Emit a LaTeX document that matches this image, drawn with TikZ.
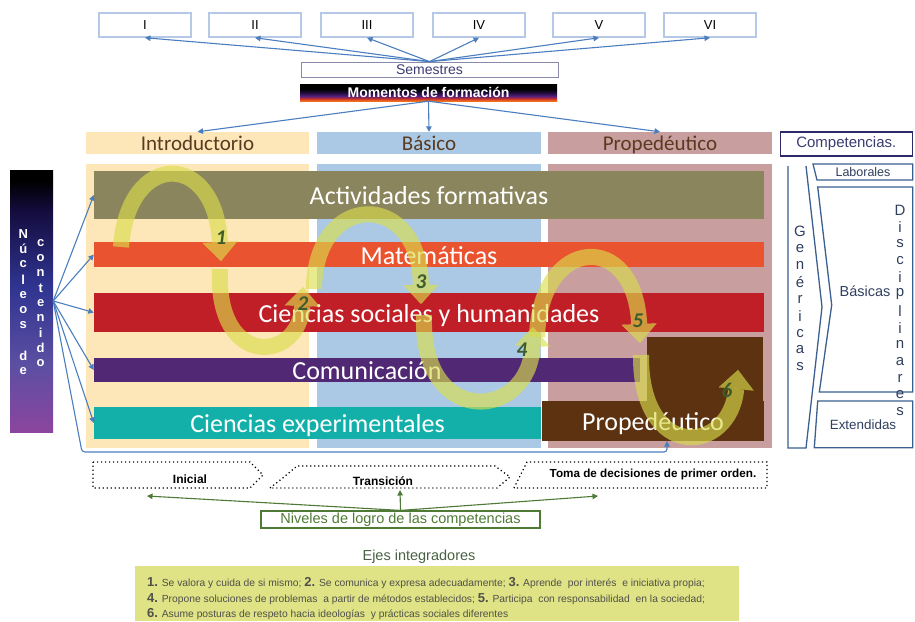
\documentclass[tikz,border=0pt]{standalone}
\usepackage{fontspec}
\setmainfont{Liberation Sans}
\newfontfamily\calfont{Carlito}
\usetikzlibrary{arrows.meta,shapes.geometric}
\definecolor{arrowblue}{HTML}{4A7EBF}
\definecolor{semborder}{HTML}{B5C9E6}
\definecolor{semtext}{HTML}{3B3B70}
\definecolor{hdrtext}{HTML}{5A3A20}
\definecolor{cIntro}{HTML}{FDE6B8}
\definecolor{cBas}{HTML}{ABC9E4}
\definecolor{cProp}{HTML}{C89E9E}
\definecolor{cAct}{HTML}{8B855D}
\definecolor{cMat}{HTML}{E9532F}
\definecolor{cCS}{HTML}{C11F27}
\definecolor{cCom}{HTML}{512873}
\definecolor{cCE}{HTML}{13B0AA}
\definecolor{cBrown}{HTML}{5C3211}
\definecolor{ribcol}{HTML}{DADE4C}
\definecolor{numgreen}{HTML}{3E5B2B}
\definecolor{navy}{HTML}{2B2B6B}
\definecolor{steel}{HTML}{3B5F8F}
\definecolor{lettxt}{HTML}{2F3F5F}
\definecolor{grn}{HTML}{4F7A35}
\definecolor{ejesfill}{HTML}{DFE385}
\definecolor{ejestxt}{HTML}{50504A}
\definecolor{mOr}{HTML}{F07020}
\definecolor{mRe}{HTML}{C83028}
\definecolor{mPu}{HTML}{5A2080}
\definecolor{mDk}{HTML}{1C0C38}
\definecolor{nP1}{HTML}{8C459F}
\definecolor{nP2}{HTML}{5B4FA2}
\definecolor{nB}{HTML}{2F3490}
\definecolor{nD}{HTML}{150D40}
\pgfdeclareverticalshading{momsh}{100bp}{color(0bp)=(mOr); color(26bp)=(mOr); color(32bp)=(mRe); color(39bp)=(mPu); color(50bp)=(mDk); color(60bp)=(black); color(100bp)=(black)}
\pgfdeclareverticalshading{nucsh}{100bp}{color(0bp)=(nP1); color(25bp)=(nP1); color(38bp)=(nP2); color(53bp)=(nB); color(67bp)=(nD); color(73bp)=(black); color(100bp)=(black)}
\newcommand\enum[1]{{\fontsize{13}{13}\selectfont\bfseries #1}}
\begin{document}
\begin{tikzpicture}[x=1pt,y=-1pt,
  blu/.style={draw=arrowblue, line width=1.1pt, -{Triangle[length=5.5pt,width=5.5pt]}},
  gar/.style={draw=grn, line width=1.1pt, -{Triangle[length=5.5pt,width=5.5pt]}},
  semb/.style={draw=semborder, line width=1.5pt, fill=white, minimum width=92pt, minimum height=24pt, inner sep=0pt, font=\fontsize{13}{13}\selectfont},
  hdr/.style={inner sep=0pt, minimum width=224pt, minimum height=22pt, text height=15pt, text depth=0pt, font=\calfont\fontsize{21}{21}\selectfont, text=hdrtext},
  colbox/.style={inner sep=0pt, minimum width=224pt, minimum height=284pt},
  bar/.style={inner sep=0pt, text=white, text height=19pt, text depth=0pt, font=\calfont\fontsize{26}{26}\selectfont},
  ribbon/.style={line width=16pt, draw=ribcol, opacity=.64, -{Triangle[width=35pt,length=19pt,line width=0.1pt]}},
  num/.style={font=\calfont\bfseries\itshape\fontsize{21}{21}\selectfont, text=numgreen, inner sep=0pt},
  nl/.style={text=white, font=\bfseries\fontsize{13}{13}\selectfont, inner sep=0pt},
  vl/.style={text=lettxt, font=\fontsize{15}{15}\selectfont, inner sep=0pt},
  rshape/.style={draw=steel, line width=1.3pt},
  chev/.style={draw=black, line width=1.3pt, dash pattern=on 1.2pt off 2.8pt},
  lvl/.style={font=\bfseries\fontsize{12}{12}\selectfont, inner sep=0pt}
]
\useasboundingbox (0,0) rectangle (915,621);
% semesters
\node[semb] (s1) at (145,25) {I};
\node[semb] (s2) at (255,25) {II};
\node[semb] (s3) at (367,25) {III};
\node[semb] (s4) at (479,25) {IV};
\node[semb] (s5) at (599,25) {V};
\node[semb] (s6) at (710,25) {VI};
\node[draw=semtext!60, line width=0.8pt, minimum width=257pt, minimum height=15pt, inner sep=0pt, text=semtext, font=\fontsize{14}{14}\selectfont] (sem) at (429.5,69.5) {Semestres};
\foreach \s in {s1,s2,s3,s4,s5,s6} \draw[blu] (sem.north) -- (\s.south);
\node[shading=momsh, minimum width=257pt, minimum height=17pt, inner sep=0pt, text=white, font=\bfseries\fontsize{14}{14}\selectfont] (mom) at (428.5,92.5) {Momentos de formación};
% headers and columns
\node[hdr, fill=cIntro, minimum width=223pt] (hi) at (197.5,143) {Introductorio};
\node[hdr, fill=cBas] (hb) at (429,143) {Básico};
\node[hdr, fill=cProp] (hp) at (660,143) {Propedéutico};
\draw[blu] (mom.south) -- (hi.north);
\draw[blu] (mom.south) -- (hb.north);
\draw[blu] (mom.south) -- (hp.north);
\node[colbox, fill=cIntro, minimum width=223pt] (ci) at (197.5,306) {};
\node[colbox, fill=cBas] (cb) at (429,306) {};
\node[colbox, fill=cProp] (cp) at (660,306) {};
% bars
\node[bar, fill=cAct, minimum width=670pt, minimum height=48pt] (act) at (429,195) {Actividades formativas};
\node[bar, fill=cMat, minimum width=670pt, minimum height=25pt] (mat) at (429,254.5) {Matemáticas};
\node[bar, fill=cCS, minimum width=670pt, minimum height=39pt] (cs) at (429,312.5) {Ciencias sociales y humanidades};
\node[bar, fill=cCom, minimum width=546pt, minimum height=24pt] (com) at (367,370) {Comunicación};
\node[bar, fill=cCE, minimum width=447pt, minimum height=32pt] (ce) at (317.5,423) {Ciencias experimentales};
\node[fill=cBrown, minimum width=116pt, minimum height=64pt, inner sep=0pt] (pu) at (705,369) {};
\node[bar, fill=cBrown, minimum width=222pt, minimum height=40pt] (pl) at (653,421) {Propedéutico};
% ribbons
\draw[ribbon] (121,247) .. controls (128,150) and (215,150) .. (221,261);
\draw[ribbon] (220,269) .. controls (215,370) and (300,362) .. (303,287);
\draw[ribbon] (314,289) .. controls (315,190) and (420,190) .. (421,304);
\draw[ribbon] (424,315) .. controls (420,430) and (530,420) .. (533,327);
\draw[ribbon] (537,337) .. controls (540,235) and (635,230) .. (640,343);
\draw[ribbon] (641,355) .. controls (640,462) and (730,455) .. (738,370);
\node[num] (n1) at (221,238) {1};
\node[num] (n2) at (303,304) {2};
\node[num] (n3) at (421,282) {3};
\node[num] (n4) at (522,350) {4};
\node[num] (n5) at (638,321) {5};
\node[num] (n6) at (727,390) {6};
% nucleos
\node[shading=nucsh, minimum width=43pt, minimum height=262pt, inner sep=0pt] (nuc) at (31.5,301) {};
\foreach \t/\k in {N/0,ú/1,c/2,l/3,e/4,o/5,s/6,d/8,e/9} \node[nl] (na\k) at (23.3,{234+15.2*\k}) {\t};
\foreach \t [count=\k from 0] in {c,o,n,t,e,n,i,d,o} \node[nl] (nb\k) at (40.7,{243+15*\k}) {\t};
\draw[blu] (nuc.east) -- (act.west);
\draw[blu] (nuc.east) -- (mat.west);
\draw[blu] (nuc.east) -- (cs.west);
\draw[blu] (nuc.east) -- (com.west);
\draw[blu] (nuc.east) -- (ce.west);
\coordinate (pin) at (667,441);
\draw[blu, rounded corners=3pt] (nuc.east) -- (82,452) -| (pin);
% competencias
\node[draw=navy, line width=1.6pt, minimum width=132pt, minimum height=23.5pt, inner sep=0pt, text=semtext, font=\fontsize{15}{15}\selectfont] (comp) at (846.3,144) {Competencias.};
\draw[rshape] (788,166) -- (788,448) -- (806,448) -- (822,307) -- (806,166);
\draw[rshape] (813,164) -- (912.7,164) -- (912.7,180) -- (817,180) -- cycle;
\node[font=\fontsize{12.5}{12.5}\selectfont, text=lettxt, inner sep=0pt] (lab) at (863,172) {Laborales};
\draw[rshape] (817.7,187) -- (912.7,187) -- (912.7,392) -- (819.3,392) -- (831.7,305) -- cycle;
\node[font=\fontsize{14.5}{14.5}\selectfont, text=lettxt, inner sep=0pt] (bas) at (865,291) {Básicas};
\draw[rshape] (817.7,401) -- (912.7,401) -- (912.7,447.7) -- (814.3,447.7) -- cycle;
\node[font=\fontsize{13.4}{13.4}\selectfont, text=lettxt, inner sep=0pt] (ext) at (863,425) {Extendidas};
\foreach \t [count=\k from 0] in {G,e,n,é,r,i,c,a,s} \node[vl] (ga\k) at (800,{231.7+16.9*\k}) {\t};
\foreach \t [count=\k from 0] in {D,i,s,c,i,p,l,i,n,a,r,e,s} \node[vl] (da\k) at (900,{210+16.8*\k}) {\t};
% niveles
\draw[chev] (93,462) -- (250,462) -- (263,475) -- (250,488) -- (93,488) -- cycle;
\draw[chev] (270,488) -- (284,477) -- (297,466) -- (495,466) -- (510,477) -- (497,488) -- cycle;
\draw[chev] (514,488) -- (527,462) -- (767,462) -- (767,488) -- cycle;
\node[lvl] (ini) at (190,479) {Inicial};
\node[lvl] (tra) at (383,481) {Transición};
\node[lvl, font=\bfseries\fontsize{11.7}{11.7}\selectfont] (tom) at (653,474) {Toma de decisiones de primer orden.};
\node[draw=grn, line width=1.2pt, minimum width=279pt, minimum height=17pt, inner sep=0pt, text=grn, font=\fontsize{14.5}{14.5}\selectfont] (niv) at (400.5,519.5) {Niveles de logro de las competencias};
\coordinate (t1) at (147,496);
\coordinate (t2) at (400,490);
\coordinate (t3) at (598,496);
\draw[gar] (niv.north) -- (t1);
\draw[gar] (niv.north) -- (t2);
\draw[gar] (niv.north) -- (t3);
% ejes
\node[text=ejestxt!90!green, font=\fontsize{14.5}{14.5}\selectfont, inner sep=0pt] (ejt) at (419,557) {Ejes integradores};
\node[fill=ejesfill, minimum width=604pt, minimum height=55pt, inner sep=0pt] (ejb) at (437,593.5) {};
\node[anchor=west, text=ejestxt, font=\fontsize{10.3}{10.3}\selectfont, inner sep=0pt] (e1) at (147,583) {\enum{1.} Se valora y cuida de si mismo; \enum{2.} Se comunica y expresa adecuadamente; \enum{3.} Aprende\ \ por interés\ \ e iniciativa propia;};
\node[anchor=west, text=ejestxt, font=\fontsize{10.3}{10.3}\selectfont, inner sep=0pt] (e2) at (147,599) {\enum{4.} Propone soluciones de problemas\ \ a partir de métodos establecidos; \enum{5.} Participa\ \ con responsabilidad\ \ en la sociedad;};
\node[anchor=west, text=ejestxt, font=\fontsize{10.3}{10.3}\selectfont, inner sep=0pt] (e3) at (147,614) {\enum{6.} Asume posturas de respeto hacia ideologías\ \ y prácticas sociales diferentes};
\end{tikzpicture}
\end{document}
